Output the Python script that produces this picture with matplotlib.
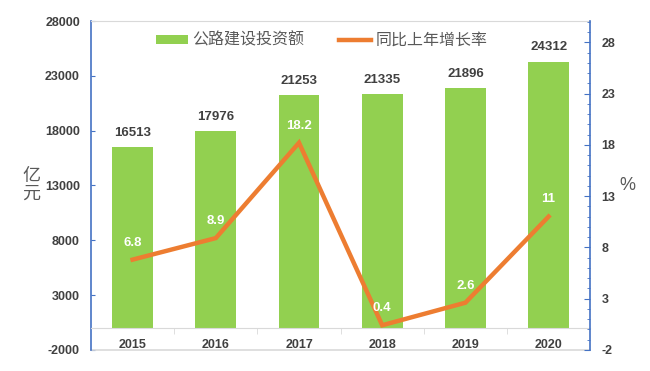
import matplotlib.pyplot as plt
import numpy as np

plt.rcParams['font.family'] = ['Liberation Sans', 'Noto Sans CJK SC', 'DejaVu Sans']
plt.rcParams['axes.unicode_minus'] = False

# data
years = ['2015', '2016', '2017', '2018', '2019', '2020']
invest = [16513, 17976, 21253, 21335, 21896, 24312]
growth = [6.8, 8.9, 18.2, 0.4, 2.6, 11]

bar_color = '#92D050'
line_color = '#ED7D31'
axis_blue = '#4472C4'
text_gray = '#404040'
frame_gray = '#D9D9D9'

fig = plt.figure(figsize=(6.5, 3.71), dpi=100)
ax = fig.add_axes([0.14, 0.057, 0.768, 0.886])
ax2 = ax.twinx()

x = np.arange(len(years))
ax.bar(x, invest, width=0.49, color=bar_color, label='公路建设投资额', zorder=2)
ax.set_xlim(-0.5, len(years) - 0.5)
ax.set_ylim(-2000, 28000)
ax.set_yticks(np.arange(-2000, 28001, 5000))
ax.tick_params(axis='y', direction='in', length=3, color=axis_blue,
               labelsize=9, labelcolor=text_gray, pad=8)
for t in ax.get_yticklabels():
    t.set_fontweight('bold')

for xi, v in zip(x, invest):
    ax.annotate(str(v), (xi, v), xytext=(0, 6), textcoords='offset points',
                ha='center', va='bottom', fontsize=9.5, color=text_gray,
                fontweight='bold')

# category axis sits at zero
ax.spines['bottom'].set_position(('data', 0))
ax.spines['bottom'].set_color(frame_gray)
ax.spines['top'].set_color(frame_gray)
ax.spines['right'].set_visible(False)
ax.spines['left'].set_color(axis_blue)
ax.spines['left'].set_linewidth(1.2)
ax.axhline(-2000, color=frame_gray, lw=1.2, clip_on=False)
ax.set_xticks(x)
ax.set_xticklabels(years, fontweight='bold')
ax.set_xticks(x[:-1] + 0.5, minor=True)
ax.tick_params(axis='x', which='major', length=0, labelsize=9,
               labelcolor=text_gray, pad=8)
ax.tick_params(axis='x', which='minor', length=4, color=frame_gray, direction='out')

# right axis: -2 at the bottom, 28 a little below the top of the frame
ax2.plot(x, growth, color=line_color, lw=3.2, label='同比上年增长率',
         solid_joinstyle='miter', zorder=3)
ax2.set_ylim(-2, 30.06)
ax2.set_yticks(np.arange(-2, 29, 5))
ax2.set_yticks(np.arange(-2, 31, 1), minor=True)
ax2.tick_params(axis='y', which='major', direction='in', length=4, color=axis_blue,
                labelsize=9, labelcolor=text_gray, pad=8)
ax2.tick_params(axis='y', which='minor', direction='in', length=2, color=axis_blue)
for t in ax2.get_yticklabels():
    t.set_fontweight('bold')
for s in ['top', 'left', 'bottom']:
    ax2.spines[s].set_visible(False)
ax2.spines['right'].set_color(axis_blue)
ax2.spines['right'].set_linewidth(1.2)

for xi, g in zip(x, growth):
    ax2.annotate(f'{g:g}', (xi, g), xytext=(0, 8), textcoords='offset points',
                 ha='center', va='bottom', fontsize=9.5, color='white',
                 fontweight='bold')

fig.text(0.048, 0.50, '亿\n元', ha='center', va='center', fontsize=13,
         color='#595959', linespacing=1.0)
fig.text(0.965, 0.50, '%', ha='center', va='center', fontsize=13, color='#595959')

h1, l1 = ax.get_legend_handles_labels()
h2, l2 = ax2.get_legend_handles_labels()
leg = fig.legend(h1 + h2, l1 + l2, loc='center', bbox_to_anchor=(0.495, 0.892),
                 ncol=2, frameon=False, fontsize=11.5, handlelength=2.0,
                 handleheight=0.5, handletextpad=0.25, columnspacing=2.2)
for t in leg.get_texts():
    t.set_color('#595959')

fig.savefig('out.png', dpi=100)
